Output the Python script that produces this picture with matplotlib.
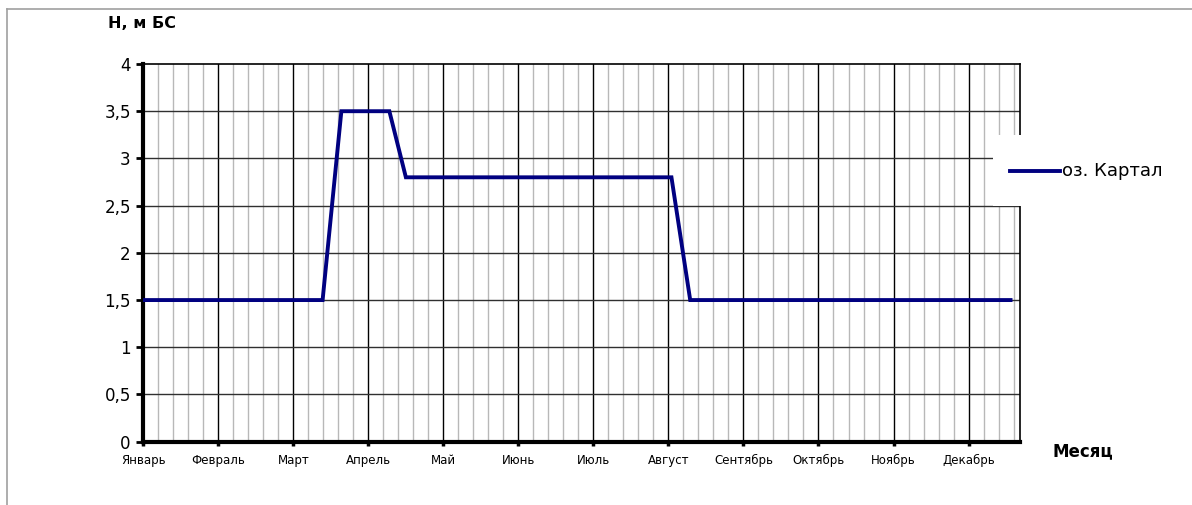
import matplotlib
matplotlib.use("Agg")
import matplotlib.pyplot as plt
from matplotlib.lines import Line2D
from matplotlib.patches import Rectangle
from matplotlib.ticker import FuncFormatter
import numpy as np

plt.rcParams['font.family'] = ['DejaVu Sans']

# month labels on the category axis
months = ["Январь", "Февраль", "Март", "Апрель", "Май", "Июнь",
          "Июль", "Август", "Сентябрь", "Октябрь", "Ноябрь", "Декабрь"]

# water level of lake Kartal, x in months from the start of January
level_x = [0.0, 2.39, 2.64, 3.28, 3.50, 7.04, 7.29, 11.56]
level_h = [1.5, 1.5, 3.5, 3.5, 2.8, 2.8, 1.5, 1.5]
series_name = "оз. Картал"

W, H = 1192, 505
fig = plt.figure(figsize=(W / 100, H / 100), dpi=100)
ax = fig.add_axes([143.3 / W, 1 - 441.7 / H, (1020.3 - 143.3) / W, (441.7 - 64) / H])

# grid: light minor verticals, black month lines, grey horizontal lines
for xm in np.arange(0.2, 11.69, 0.2):
    if abs(xm - round(xm)) > 1e-6:
        ax.axvline(xm, color='#b8b8b8', lw=1.0, zorder=1)
for xm in range(1, 12):
    ax.axvline(xm, color='black', lw=1.0, zorder=1.5)
for yv in np.arange(0.5, 4.0, 0.5):
    ax.axhline(yv, color='#303030', lw=1.0, zorder=1.5)

ax.plot(level_x, level_h, color='#000080', lw=2.8, zorder=3,
        solid_joinstyle='miter', label=series_name)

ax.set_xlim(0, 11.69)
ax.set_ylim(0, 4)
ax.set_xticks(range(12))
ax.set_xticklabels(months, fontsize=8.5)
ax.set_yticks(np.arange(0, 4.01, 0.5))
ax.yaxis.set_major_formatter(FuncFormatter(lambda v, p: f"{v:g}".replace('.', ',')))
ax.tick_params(axis='y', labelsize=12, length=5, width=2, pad=4)
ax.tick_params(axis='x', length=3, width=2.5, pad=6)

for s in ['left', 'bottom']:
    ax.spines[s].set_linewidth(3)
for s in ['top', 'right']:
    ax.spines[s].set_linewidth(1.2)

# axis titles
fig.text(108 / W, 1 - 23 / H, "Н, м БС", fontsize=11.5, fontweight='bold', va='center', ha='left')
fig.text(1053 / W, 1 - 451 / H, "Месяц", fontsize=12, fontweight='bold', va='center', ha='left')

# legend on a white box over the grid
fig.patches.append(Rectangle((993 / W, 1 - 206.5 / H), (W - 993) / W, 71 / H,
                             transform=fig.transFigure, facecolor='white',
                             edgecolor='none', zorder=4))
fig.lines.append(Line2D([1010 / W, 1060 / W], [1 - 171 / H] * 2, transform=fig.transFigure,
                        color='#000080', lw=2.8, zorder=5))
fig.text(1062 / W, 1 - 171 / H, series_name, fontsize=13, va='center', ha='left', zorder=5)

# outer chart frame
fig.lines.append(Line2D([7 / W, 1.0], [1 - 8.5 / H] * 2, transform=fig.transFigure,
                        color='#a0a0a0', lw=1.2))
fig.lines.append(Line2D([7 / W] * 2, [0, 1 - 8.5 / H], transform=fig.transFigure,
                        color='#a0a0a0', lw=1.2))

fig.savefig("out.png", dpi=100)
